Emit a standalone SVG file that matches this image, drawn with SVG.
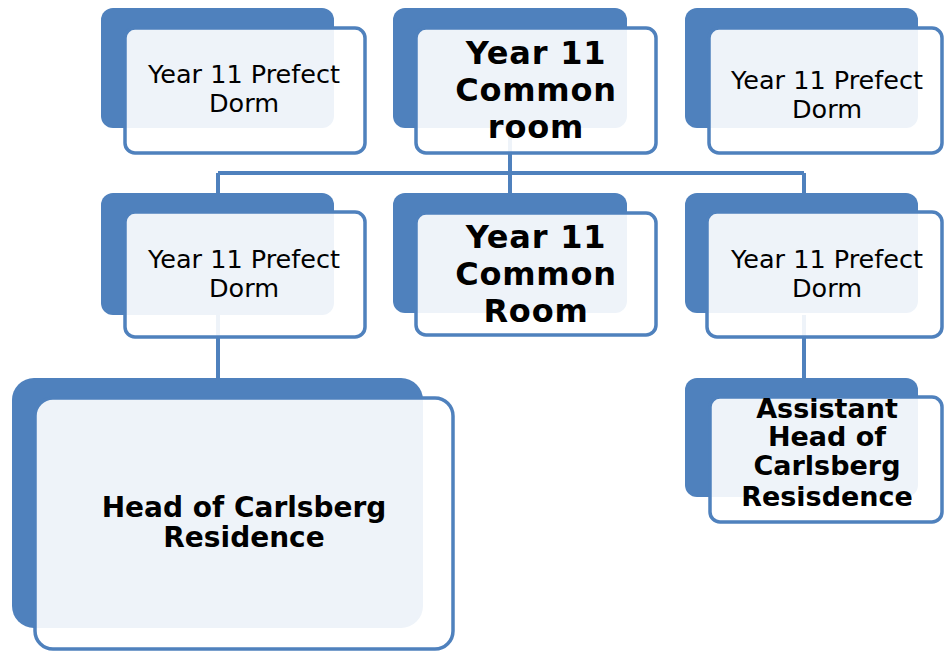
<svg xmlns="http://www.w3.org/2000/svg" width="944" height="652" viewBox="0 0 944 652">
<style>
.back{fill:#4F81BD;}
.front{fill:#FFFFFF;fill-opacity:0.9;stroke:#4F81BD;stroke-width:3.5;}
.conn{fill:none;stroke:#4F81BD;stroke-width:4;}
.sm{font-family:"DejaVu Sans",sans-serif;font-size:25.5px;fill:#000;text-anchor:middle;}
.lg{font-family:"DejaVu Sans",sans-serif;font-weight:bold;font-size:32px;letter-spacing:0.8px;fill:#000;text-anchor:middle;}
.hd{font-family:"DejaVu Sans",sans-serif;font-weight:bold;font-size:28px;fill:#000;text-anchor:middle;}
.hs{font-family:"DejaVu Sans",sans-serif;font-weight:bold;font-size:27px;fill:#000;text-anchor:middle;}
</style>
<rect width="944" height="652" fill="#FFFFFF"/>
<g id="connectors">
<path class="conn" d="M510,128 V193"/>
<path class="conn" d="M218,173 H804"/>
<path class="conn" d="M218,173 V193"/>
<path class="conn" d="M804,173 V193"/>
<path class="conn" d="M218,315 V378"/>
<path class="conn" d="M804,315 V378"/>
</g>
<g id="node-top-left">
<rect class="back" x="101" y="8" width="233" height="120" rx="12"/>
<rect class="front" x="125" y="28" width="240" height="125" rx="10"/>
<text class="sm" x="244" y="83">Year 11 Prefect</text>
<text class="sm" x="244" y="112">Dorm</text>
</g>
<g id="node-top-mid">
<rect class="back" x="393" y="8" width="234" height="120" rx="12"/>
<rect class="front" x="416" y="28" width="240" height="125" rx="10"/>
<text class="lg" x="536" y="64">Year 11</text>
<text class="lg" x="536" y="101">Common</text>
<text class="lg" x="536" y="138">room</text>
</g>
<g id="node-top-right">
<rect class="back" x="685" y="8" width="233" height="120" rx="12"/>
<rect class="front" x="709" y="28" width="233" height="125" rx="10"/>
<text class="sm" x="827" y="89">Year 11 Prefect</text>
<text class="sm" x="827" y="118">Dorm</text>
</g>
<g id="node-mid-left">
<rect class="back" x="101" y="193" width="233" height="122" rx="12"/>
<rect class="front" x="125" y="212" width="240" height="125" rx="10"/>
<text class="sm" x="244" y="268">Year 11 Prefect</text>
<text class="sm" x="244" y="297">Dorm</text>
</g>
<g id="node-mid-mid">
<rect class="back" x="393" y="193" width="234" height="120" rx="12"/>
<rect class="front" x="416" y="213" width="240" height="122" rx="10"/>
<text class="lg" x="536" y="248">Year 11</text>
<text class="lg" x="536" y="285">Common</text>
<text class="lg" x="536" y="322">Room</text>
</g>
<g id="node-mid-right">
<rect class="back" x="685" y="193" width="233" height="120" rx="12"/>
<rect class="front" x="707" y="212" width="235" height="125" rx="10"/>
<text class="sm" x="827" y="268">Year 11 Prefect</text>
<text class="sm" x="827" y="297">Dorm</text>
</g>
<g id="node-head">
<rect class="back" x="12" y="378" width="411" height="250" rx="22"/>
<rect class="front" x="35" y="398" width="418" height="251" rx="18"/>
<text class="hd" x="244" y="517">Head of Carlsberg</text>
<text class="hd" x="244" y="547">Residence</text>
</g>
<g id="node-assistant">
<rect class="back" x="685" y="378" width="233" height="119" rx="12"/>
<rect class="front" x="710" y="397" width="232" height="125" rx="10"/>
<text class="hs" x="827" y="418">Assistant</text>
<text class="hs" x="827" y="446">Head of</text>
<text class="hs" x="827" y="475">Carlsberg</text>
<text class="hs" x="827" y="506">Resisdence</text>
</g>
</svg>
